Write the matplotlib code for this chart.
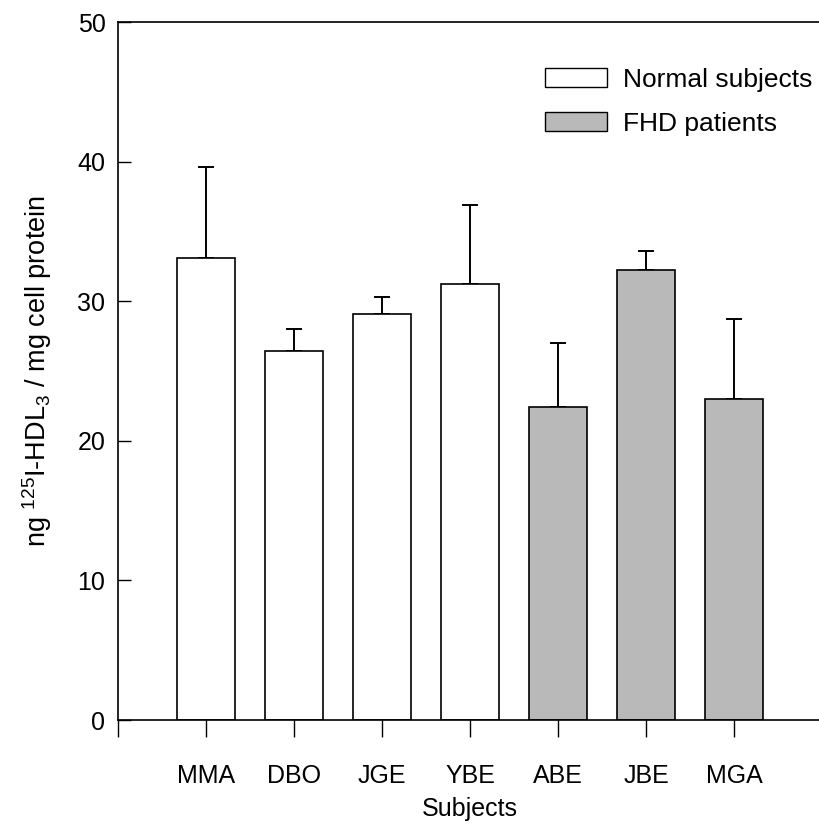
import matplotlib
matplotlib.use("Agg")
import matplotlib.pyplot as plt
from matplotlib.patches import Patch

plt.rcParams['font.family'] = ['Liberation Sans', 'DejaVu Sans']
plt.rcParams['mathtext.default'] = 'regular'

subjects = ["MMA", "DBO", "JGE", "YBE", "ABE", "JBE", "MGA"]
values = [33.1, 26.4, 29.1, 31.2, 22.4, 32.2, 23.0]
errors = [6.5, 1.6, 1.2, 5.7, 4.6, 1.4, 5.7]
groups = ["Normal", "Normal", "Normal", "Normal", "FHD", "FHD", "FHD"]
legend_labels = ["Normal subjects", "FHD patients"]

fill = {"Normal": "white", "FHD": "#b9b9b9"}

fig = plt.figure(figsize=(8.2, 8.26), dpi=100)
ax = fig.add_axes([118/820, 1-720/826, 704/820, (720-22)/826])

pos = list(range(1, len(subjects)+1))
colors = [fill[g] for g in groups]
ax.bar(pos, values, width=0.67, color=colors, edgecolor='black', linewidth=1.2, zorder=2)
ax.errorbar(pos, values, yerr=[[0]*len(errors), errors], fmt='none', ecolor='black',
            elinewidth=1.4, capsize=5.8, capthick=1.4, zorder=1)

ax.set_xlim(0, 8.0)
ax.set_ylim(0, 50)
ax.set_yticks([0, 10, 20, 30, 40, 50])
ax.set_xticks([0] + pos)
ax.set_xticklabels([""] + subjects)
ax.tick_params(axis='y', direction='in', length=9, width=1, labelsize=18, pad=9)
ax.tick_params(axis='x', direction='out', length=12, width=1, labelsize=18, pad=20)
for s in ax.spines.values():
    s.set_linewidth(1.2)
ax.spines['right'].set_visible(False)

ax.set_xlabel("Subjects", fontsize=18, labelpad=6)
ax.set_ylabel(r"ng $^{125}$I-HDL$_3$ / mg cell protein", fontsize=19.5, labelpad=17)

handles = [Patch(facecolor='white', edgecolor='black', linewidth=1.0),
           Patch(facecolor='#b9b9b9', edgecolor='black', linewidth=1.0)]
ax.legend(handles, legend_labels, loc='upper left', bbox_to_anchor=(0.6065, 0.934),
          frameon=False, fontsize=19, handlelength=2.35, handleheight=0.72,
          handletextpad=0.6, labelspacing=0.74, borderaxespad=0, borderpad=0)

fig.savefig("out.png", dpi=100)
